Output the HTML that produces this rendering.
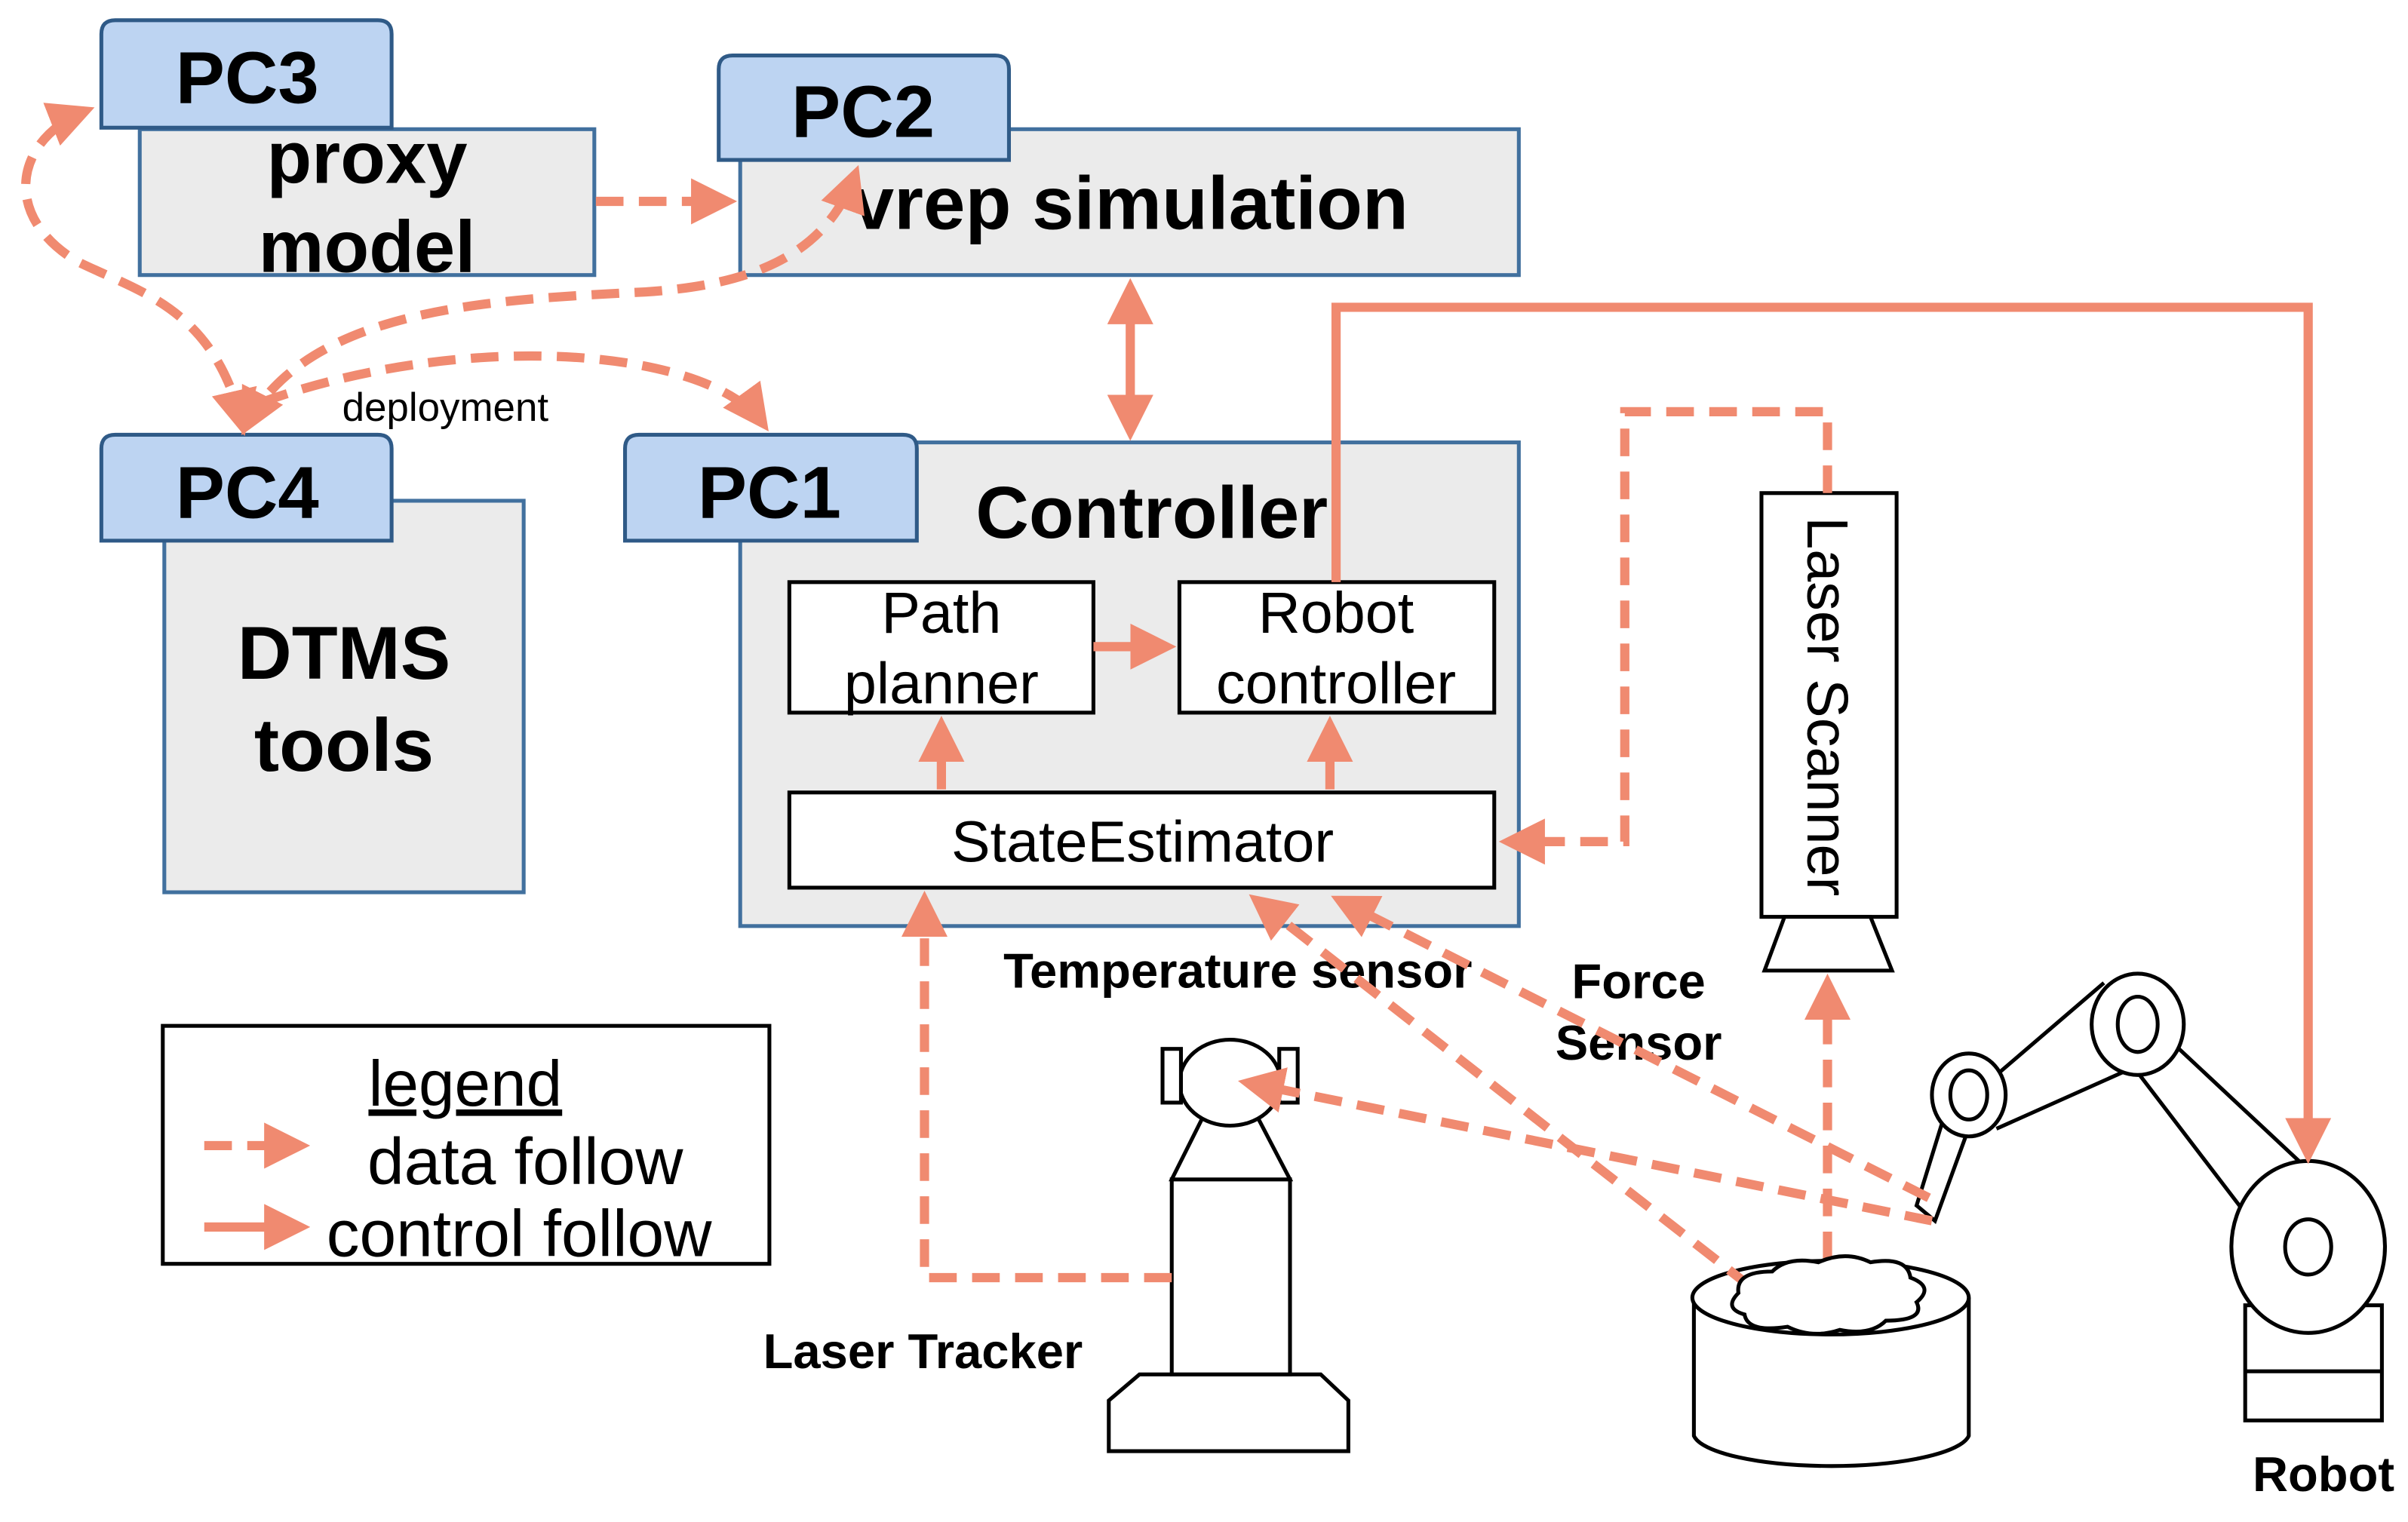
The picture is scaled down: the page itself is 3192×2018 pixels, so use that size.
<!DOCTYPE html>
<html><head><meta charset="utf-8"><style>html,body{margin:0;padding:0;background:#fff}svg{display:block}</style></head>
<body>
<svg width="3192" height="2018" viewBox="0 0 1568 991" xmlns="http://www.w3.org/2000/svg" font-family="Liberation Sans, sans-serif">
<defs>
<marker id="a" markerWidth="5" markerHeight="5" refX="4" refY="2.5" orient="auto" markerUnits="strokeWidth"><path d="M0,0 L5,2.5 L0,5 z" fill="#f08a70"/></marker>
<marker id="s" markerWidth="5" markerHeight="5" refX="1" refY="2.5" orient="auto" markerUnits="strokeWidth"><path d="M5,0 L0,2.5 L5,5 z" fill="#f08a70"/></marker>
</defs>
<g stroke="#41709e" stroke-width="2.5" fill="#ebebeb">
<rect x="91" y="84" width="296" height="95"/>
<rect x="482" y="84" width="507" height="95"/>
<rect x="107" y="326" width="234" height="255"/>
<rect x="482" y="288" width="507" height="315"/>
</g>
<g stroke="#2f5a87" stroke-width="2.5" fill="#bdd4f2">
<path d="M66,83 V22 Q66,13 75,13 H246 Q255,13 255,22 V83 Z"/>
<path d="M468,104 V45 Q468,36 477,36 H648 Q657,36 657,45 V104 Z"/>
<path d="M66,352 V292 Q66,283 75,283 H246 Q255,283 255,292 V352 Z"/>
<path d="M407,352 V292 Q407,283 416,283 H588 Q597,283 597,292 V352 Z"/>
</g>
<g font-weight="bold" fill="#000" text-anchor="middle">
<text x="161" y="67" font-size="48">PC3</text>
<text x="562" y="89" font-size="48">PC2</text>
<text x="161" y="337" font-size="48">PC4</text>
<text x="501" y="337" font-size="48">PC1</text>
<text x="239" y="119" font-size="48">proxy</text>
<text x="239" y="177" font-size="48">model</text>
<text x="736" y="149" font-size="49">vrep simulation</text>
<text x="224" y="442" font-size="49">DTMS</text>
<text x="224" y="502" font-size="49">tools</text>
<text x="750" y="350" font-size="48">Controller</text>
<text x="806" y="643" font-size="32">Temperature sensor</text>
<text x="1067" y="650" font-size="32">Force</text>
<text x="1067" y="690" font-size="32">Sensor</text>
<text x="601" y="891" font-size="32">Laser Tracker</text>
<text x="1195" y="920" font-size="32">Grain</text>
<text x="1513" y="971" font-size="32">Robot</text>
</g>
<text x="290" y="274" font-size="26" text-anchor="middle">deployment</text>
<g stroke="#000" stroke-width="2.5" fill="#fff">
<rect x="514" y="379" width="198" height="85"/>
<rect x="768" y="379" width="205" height="85"/>
<rect x="514" y="516" width="459" height="62"/>
<rect x="1147" y="321" width="88" height="276"/>
<path d="M1162,597 H1218 L1232,632 H1149 Z"/>
<rect x="106" y="668" width="395" height="155"/>
</g>
<g font-size="38" text-anchor="middle" fill="#000">
<text x="613" y="412">Path</text>
<text x="613" y="458">planner</text>
<text x="870" y="412">Robot</text>
<text x="870" y="458">controller</text>
<text x="744" y="561">StateEstimator</text>
<text x="303" y="720" font-size="42" text-decoration="underline">legend</text>
<text x="342" y="771" font-size="43">data follow</text>
<text x="338" y="818" font-size="43">control follow</text>
<text transform="translate(1177,460) rotate(90)">Laser Scanner</text>
</g>
<!-- laser tracker -->
<g stroke="#000" stroke-width="2.5" fill="#fff">
<path d="M742,895 H860 L878,912 V945 H722 V912 Z"/>
<rect x="763" y="768" width="77" height="127"/>
<path d="M786,722 H816 L840,768 H763 Z"/>
<ellipse cx="801" cy="705" rx="33" ry="28"/>
<rect x="757" y="683" width="12" height="35"/>
<rect x="833" y="683" width="12" height="35"/>
</g>
<!-- grain -->
<g stroke="#000" stroke-width="2.5" fill="#fff">
<path d="M1103,845 V935 A90,22 0 0 0 1282,935 V845"/>
<ellipse cx="1192" cy="845" rx="90" ry="24"/>
</g>
<!-- robot -->
<g stroke="#000" stroke-width="2.5" fill="#fff">
<rect x="1462" y="850" width="89" height="75"/>
<line x1="1462" y1="893" x2="1551" y2="893"/>
<path d="M1378,680 L1462,790 M1405,670 L1498,757"/>
<path d="M1370,640 L1300,700 M1385,697 L1300,735"/>
<path d="M1265,730 L1248,785 L1260,795 L1280,740"/>
<ellipse cx="1503" cy="812" rx="50" ry="56"/>
<ellipse cx="1503" cy="812" rx="15" ry="18"/>
<ellipse cx="1392" cy="667" rx="30" ry="33"/>
<ellipse cx="1392" cy="667" rx="13" ry="18"/>
<ellipse cx="1282" cy="713" rx="24" ry="27"/>
<ellipse cx="1282" cy="713" rx="12" ry="16"/>
</g>
<!-- connectors -->
<g stroke="#f08a70" stroke-width="6" fill="none">
<g stroke-dasharray="18 10">
<path d="M388,131 H474" marker-end="url(#a)"/>
<path d="M158,278 C140,200 90,190 50,170 C0,140 10,90 56,72" marker-end="url(#a)" marker-start="url(#s)"/>
<path d="M160,278 C200,200 320,195 420,190 C500,185 540,160 557,113" marker-end="url(#a)" marker-start="url(#s)"/>
<path d="M170,262 C300,215 460,225 497,276" marker-end="url(#a)"/>
<path d="M1190,321 V268 H1058 V548 H982" marker-end="url(#a)"/>
<path d="M613,514 V472" marker-end="url(#a)"/>
<path d="M866,514 V472" marker-end="url(#a)"/>
<path d="M763,832 H602 V586" marker-end="url(#a)"/>
<path d="M1140,838 L818,586" marker-end="url(#a)"/>
<path d="M1256,780 L872,586" marker-end="url(#a)"/>
<path d="M1258,795 L812,705" marker-end="url(#a)"/>
<path d="M1190,820 V640" marker-end="url(#a)"/>
<path d="M133,746 H196" marker-end="url(#a)"/>
</g>
<path d="M736,187 V281" marker-end="url(#a)" marker-start="url(#s)"/>
<path d="M870,379 V200 H1503 V752" marker-end="url(#a)"/>
<path d="M712,421 H760" marker-end="url(#a)"/>
<path d="M133,799 H196" marker-end="url(#a)"/>
</g>
<path stroke="#000" stroke-width="2.5" fill="#fff" d="M1132,842 q-2,-14 22,-14 q10,-10 30,-6 q18,-8 34,0 q24,-4 26,10 q16,6 4,16 q6,12 -20,12 q-10,10 -30,6 q-18,6 -34,-2 q-26,4 -28,-8 q-14,-4 -4,-14 z"/>
</svg>
</body></html>
